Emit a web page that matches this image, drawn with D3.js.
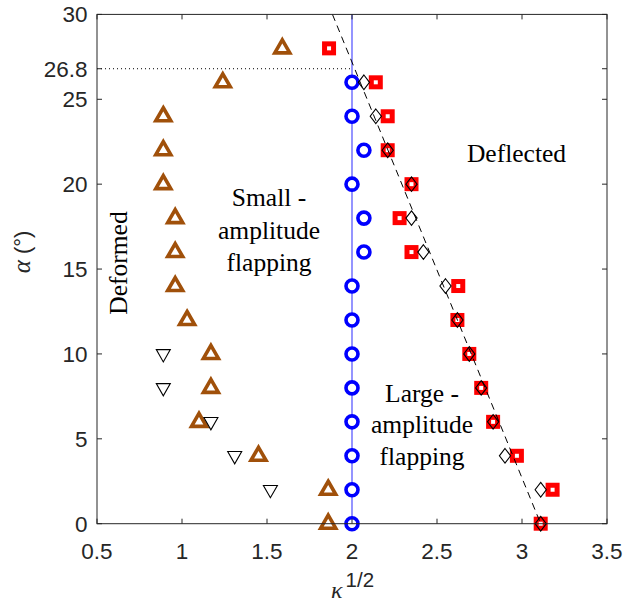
<!DOCTYPE html>
<html><head><meta charset="utf-8">
<script src="https://cdn.jsdelivr.net/npm/d3@7"></script>
<style>body{margin:0;background:#fff}</style>
</head><body>
<svg id="c" width="623" height="602"></svg>
<script>
// ---- data ----
const triK = [1.59,1.24,0.89,0.89,0.89,0.96,0.96,0.96,1.03,1.17,1.17,1.10,1.45,1.86,1.86];
const triA = [28,26,24,22,20,18,16,14,12,10,8,6,4,2,0];
const invK = [0.89,0.89,1.17,1.31,1.52];
const invA = [10,8,6,4,2];
const circK = [2,2,2.07,2,2.07,2.07,2,2,2,2,2,2,2,2];
const circA = [26,24,22,20,18,16,14,12,10,8,6,4,2,0];
const sqK = [1.865,2.14,2.21,2.21,2.35,2.28,2.35,2.625,2.62,2.69,2.76,2.83,2.97,3.18,3.11];
const sqA = [28,26,24,22,20,18,16,14,12,10,8,6,4,2,0];
const diaK = [2.07,2.14,2.21,2.35,2.35,2.42,2.55,2.62,2.69,2.76,2.83,2.90,3.11,3.11];
const diaA = [26,24,22,20,18,16,14,12,10,8,6,4,2,0];
const dashK = [1.885,3.11], dashA = [30,0];
const vlineK = [2,2], vlineA = [0,30];
const dotK = [0.5,2], dotA = [26.8,26.8];
const xTicks = [0.5,1,1.5,2,2.5,3,3.5];
const yTicks = [0,5,10,15,20,25,26.8,30];

// ---- scales ----
const svg = d3.select('#c');
const x = d3.scaleLinear().domain([0.5,3.5]).range([97,607]);
const y = d3.scaleLinear().domain([0,30]).range([523.7,14.4]);
const line = d3.line().x(d=>x(d[0])).y(d=>y(d[1]));
const zip = (a,b)=>a.map((v,i)=>[v,b[i]]);

// reference lines
svg.append('path').attr('d',line(zip(dotK,dotA))).attr('fill','none')
  .attr('stroke','#000').attr('stroke-width',1).attr('stroke-dasharray','1,3');
svg.append('path').attr('d',line(zip(vlineK,vlineA))).attr('fill','none')
  .attr('stroke','#7a7aff').attr('stroke-width',1.6);

// brown triangles
svg.append('g').selectAll('path').data(zip(triK,triA)).join('path')
  .attr('transform',d=>`translate(${x(d[0])},${y(d[1])})`)
  .attr('d','M0,-8.5L7.5,4.5L-7.5,4.5Z')
  .attr('fill','#fff').attr('stroke','#a0500a').attr('stroke-width',3.6).attr('stroke-linejoin','miter');
// inverted triangles
svg.append('g').selectAll('path').data(zip(invK,invA)).join('path')
  .attr('transform',d=>`translate(${x(d[0])},${y(d[1])})`)
  .attr('d','M-7,-4.3L7,-4.3L0,8Z')
  .attr('fill','none').attr('stroke','#000').attr('stroke-width',1.1);
// circles
svg.append('g').selectAll('circle').data(zip(circK,circA)).join('circle')
  .attr('cx',d=>x(d[0])).attr('cy',d=>y(d[1])).attr('r',6)
  .attr('fill','#fff').attr('stroke','#0000ff').attr('stroke-width',3.6);
// red squares
svg.append('g').selectAll('rect').data(zip(sqK,sqA)).join('rect')
  .attr('x',d=>x(d[0])-4.5).attr('y',d=>y(d[1])-4.5).attr('width',9).attr('height',9)
  .attr('fill','#fff').attr('stroke','#ff0000').attr('stroke-width',5);
// diamonds
svg.append('g').selectAll('path').data(zip(diaK,diaA)).join('path')
  .attr('transform',d=>`translate(${x(d[0])},${y(d[1])})`)
  .attr('d','M0,-7.3L5.6,0L0,7.3L-5.6,0Z')
  .attr('fill','none').attr('stroke','#000').attr('stroke-width',1.1);
// dashed boundary
svg.append('path').attr('d',line(zip(dashK,dashA))).attr('fill','none')
  .attr('stroke','#000').attr('stroke-width',1).attr('stroke-dasharray','7,5');

// ---- axes ----
const axCol = '#262626';
const ax = svg.append('g');
ax.append('rect').attr('x',97).attr('y',14.4).attr('width',510).attr('height',509.3)
  .attr('fill','none').attr('stroke',axCol).attr('stroke-width',1);
xTicks.forEach(t=>{
  ax.append('line').attr('x1',x(t)).attr('x2',x(t)).attr('y1',523.7).attr('y2',518.7).attr('stroke',axCol);
  ax.append('line').attr('x1',x(t)).attr('x2',x(t)).attr('y1',14.4).attr('y2',19.4).attr('stroke',axCol);
  ax.append('text').attr('x',x(t)).attr('y',559).attr('text-anchor','middle')
    .attr('font-family','Liberation Sans, Arial, sans-serif').attr('font-size',22.5).attr('fill',axCol).text(t);
});
yTicks.forEach(t=>{
  ax.append('line').attr('x1',97).attr('x2',102).attr('y1',y(t)).attr('y2',y(t)).attr('stroke',axCol);
  ax.append('line').attr('x1',607).attr('x2',602).attr('y1',y(t)).attr('y2',y(t)).attr('stroke',axCol);
  ax.append('text').attr('x',87.5).attr('y',y(t)+8).attr('text-anchor','end')
    .attr('font-family','Liberation Sans, Arial, sans-serif').attr('font-size',22.5).attr('fill',axCol).text(t);
});

// axis labels
const yl = svg.append('text').attr('transform','translate(30,252) rotate(-90)').attr('text-anchor','middle').attr('fill',axCol);
yl.append('tspan').attr('font-family','Liberation Serif, Times New Roman, serif').attr('font-style','italic').attr('font-size',25).text('α');
yl.append('tspan').attr('font-family','Liberation Sans, Arial, sans-serif').attr('font-size',22).text(' (°)');
const xl = svg.append('text').attr('x',331).attr('y',598).attr('fill',axCol);
xl.append('tspan').attr('font-family','Liberation Serif, Times New Roman, serif').attr('font-style','italic').attr('font-size',24).text('κ');
xl.append('tspan').attr('font-family','Liberation Sans, Arial, sans-serif').attr('font-size',20.5).attr('dx',3).attr('dy',-11).text('1/2');

// annotations
const serif = 'Liberation Serif, Times New Roman, serif';
function label(lines, cx, y0, dy){
  lines.forEach((s,i)=>svg.append('text').attr('x',cx).attr('y',y0+i*dy).attr('text-anchor','middle')
    .attr('font-family',serif).attr('font-size',25.5).attr('fill','#000').text(s));
}
label(['Small -','amplitude','flapping'], 269, 206, 32.5);
label(['Large -','amplitude','flapping'], 422, 401.5, 31.5);
label(['Deflected'], 516.5, 161.5, 0);
svg.append('text').attr('transform','translate(127,263) rotate(-90)').attr('text-anchor','middle')
  .attr('font-family',serif).attr('font-size',25.5).attr('fill','#000').text('Deformed');
</script>
</body></html>
